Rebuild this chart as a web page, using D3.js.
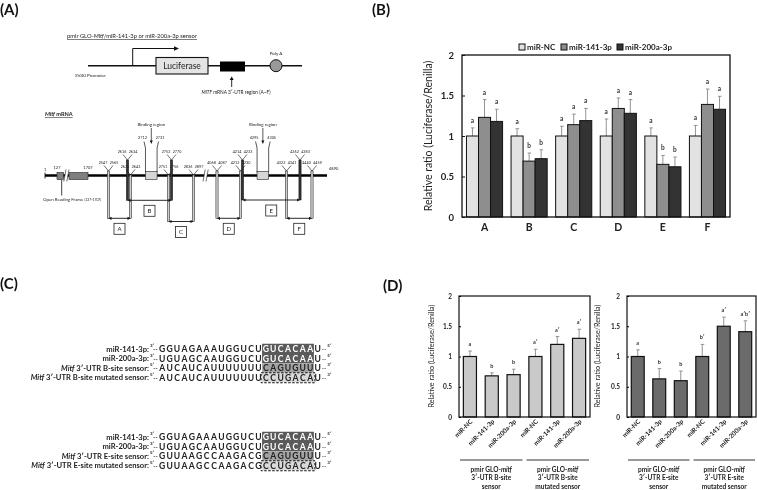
<!DOCTYPE html>
<html><head><meta charset="utf-8">
<script src="https://cdn.jsdelivr.net/npm/d3@7"></script>
<style>body{margin:0;background:#fff} svg{display:block;will-change:transform;-webkit-font-smoothing:antialiased} text{font-family:Lato,"Open Sans",sans-serif}</style>
</head><body>
<svg id="c" width="757" height="490"></svg>
<script>
// ---------------- DATA ----------------
// Panel B
const regions = ["A","B","C","D","E","F"];
const seriesB = ["miR-NC","miR-141-3p","miR-200a-3p"];
const valNC   = [1.00,1.00,1.00,1.00,1.00,1.00];
const val141  = [1.23,0.69,1.14,1.34,0.65,1.39];
const val200a = [1.18,0.72,1.19,1.28,0.62,1.33];
const errNC   = [0.10,0.09,0.12,0.21,0.10,0.13];
const err141  = [0.22,0.10,0.13,0.13,0.11,0.19];
const err200a = [0.15,0.11,0.15,0.17,0.12,0.16];
const sigNC   = ["a","a","a","a","a","a"];
const sig141  = ["a","b","a","a","b","a"];
const sig200a = ["a","b","a","a","b","a"];
const yTicks  = [0,0.5,1,1.5,2];
// Panel D
const dCats   = ["miR-NC","miR-141-3p","miR-200a-3p","miR-NC ","miR-141-3p ","miR-200a-3p "];
const bSiteVal = [1.00,0.68,0.70,1.00,1.20,1.30];
const bSiteErr = [0.09,0.05,0.09,0.12,0.13,0.15];
const bSiteSig = ["a","b","b","a′","a′","a′"];
const eSiteVal = [1.00,0.63,0.60,1.00,1.50,1.41];
const eSiteErr = [0.11,0.17,0.16,0.20,0.15,0.18];
const eSiteSig = ["a","b","b","b′","a′","a′b′"];
const groupsB = [["pmir GLO-|mitf","3′-UTR B-site","sensor"],["pmir GLO-|mitf","3′-UTR B-site","mutated sensor"]];
const groupsE = [["pmir GLO-|mitf","3′-UTR E-site","sensor"],["pmir GLO-|mitf","3′-UTR E-site","mutated sensor"]];
// Panel C
const seqLabelsB = ["miR-141-3p:","miR-200a-3p:","|Mitf| 3′-UTR B-site sensor:","|Mitf| 3′-UTR B-site mutated sensor:"];
const seqLabelsE = ["miR-141-3p:","miR-200a-3p:","|Mitf| 3′-UTR E-site sensor:","|Mitf| 3′-UTR E-site mutated sensor:"];
const seqB = ["GGUAGAAAUGGUCUGUCACAAU","UGUAGCAAUGGUCUGUCACAAU","AUCAUCAUUUUUUUCAGUGUUU","AUCAUCAUUUUUUUCCUGACAU"];
const seqE = ["GGUAGAAAUGGUCUGUCACAAU","UGUAGCAAUGGUCUGUCACAAU","GUUAAGCCAAGACGCAGUGUUU","GUUAAGCCAAGACGCCUGACAU"];
const seqEnds = [["3′","5′"],["3′","5′"],["5′","3′"],["5′","3′"]];
// Panel A (Mitf mRNA map, nucleotide positions)
const mrnaEnds = [1,4890];
const orf = [127,1707];
const primers = [
  {p:[2547,2565], lv:1, to:"A"},
  {p:[2616,2634], lv:0, to:"B"},
  {p:[2625,2643], lv:2, to:"A"},
  {p:[2751,2756], lv:2, to:"C"},
  {p:[2752,2770], lv:0, to:"B"},
  {p:[2836,2897], lv:2, to:"C"},
  {p:[4068,4087], lv:1, to:"D"},
  {p:[4212,4230], lv:1, to:"D"},
  {p:[4214,4233], lv:0, to:"E"},
  {p:[4322,4341], lv:1, to:"F"},
  {p:[4362,4383], lv:0, to:"E"},
  {p:[4440,4459], lv:1, to:"F"}
];
const binding = [[2712,2731],[4295,4305]];

// ---------------- DRAW ----------------
const svg = d3.select("#c");
const SEQF = "'Liberation Sans',Arial,sans-serif";

// panel labels
const panelLabels = [["(A)",0,15],["(B)",372,15],["(C)",0,289],["(D)",383,291]];
svg.selectAll("text.pl").data(panelLabels).join("text").attr("class","pl")
  .attr("x",d=>d[1]).attr("y",d=>d[2]).text(d=>d[0])
  .attr("font-size",15).attr("font-weight","bold").attr("fill","#111");

// ===== Panel B =====
const gB = svg.append("g");
const yB = d3.scaleLinear().domain([0,2]).range([217,55]);
const xB = d3.scaleBand().domain(regions).range([462,730]).paddingInner(0.19).paddingOuter(0.1);
const xBs = d3.scaleBand().domain(seriesB).range([0,xB.bandwidth()]);
const colB = d3.scaleOrdinal().domain(seriesB).range(["#e2e2e2","#8e8e8e","#333333"]);
const rowsB = regions.flatMap((r,i)=>[
  {r,s:seriesB[0],v:valNC[i],e:errNC[i],t:sigNC[i]},
  {r,s:seriesB[1],v:val141[i],e:err141[i],t:sig141[i]},
  {r,s:seriesB[2],v:val200a[i],e:err200a[i],t:sig200a[i]}]);
const cxB = d=>xB(d.r)+xBs(d.s)+xBs.bandwidth()/2;
gB.selectAll("line.eb").data(rowsB).join("line").attr("x1",cxB).attr("x2",cxB)
  .attr("y1",d=>yB(d.v)).attr("y2",d=>yB(d.v+d.e)).attr("stroke","#888").attr("stroke-width",0.9);
gB.selectAll("line.ec").data(rowsB).join("line").attr("x1",d=>cxB(d)-1.5).attr("x2",d=>cxB(d)+2)
  .attr("y1",d=>yB(d.v+d.e)).attr("y2",d=>yB(d.v+d.e)).attr("stroke","#888").attr("stroke-width",0.9);
gB.selectAll("rect.bar").data(rowsB).join("rect")
  .attr("x",d=>xB(d.r)+xBs(d.s)).attr("y",d=>yB(d.v))
  .attr("width",xBs.bandwidth()).attr("height",d=>yB(0)-yB(d.v))
  .attr("fill",d=>colB(d.s)).attr("stroke","#111").attr("stroke-width",1);
gB.selectAll("text.sig").data(rowsB).join("text").attr("x",cxB).attr("y",d=>yB(d.v+d.e)-5)
  .attr("text-anchor","middle").attr("font-size",6.5).attr("font-weight","bold").attr("fill","#333").text(d=>d.t);
gB.append("rect").attr("x",462).attr("y",55).attr("width",268).attr("height",162)
  .attr("fill","none").attr("stroke","#111").attr("stroke-width",1.3);
const axYB = gB.append("g").attr("transform","translate(462,0)")
  .call(d3.axisLeft(yB).tickValues(yTicks).tickFormat(d=>d).tickSizeInner(-3).tickSizeOuter(0).tickPadding(8));
axYB.select(".domain").remove();
axYB.selectAll("text").attr("font-size",9.5).attr("font-weight","bold").attr("fill","#222").attr("font-family","Lato,sans-serif");
axYB.selectAll("line").attr("stroke","#111");
const axXB = gB.append("g").attr("transform","translate(0,217)")
  .call(d3.axisBottom(xB).tickSize(0).tickPadding(7));
axXB.select(".domain").remove();
axXB.selectAll("text").attr("font-size",10.5).attr("font-weight","bold").attr("fill","#222").attr("font-family","Lato,sans-serif");
gB.append("text").attr("transform","translate(432,136) rotate(-90)").attr("text-anchor","middle")
  .attr("font-size",10.5).attr("fill","#222").text("Relative ratio (Luciferase/Renilla)");
const legX = d3.scaleOrdinal().domain(seriesB).range([519,561,617]);
const lg = gB.selectAll("g.lg").data(seriesB).join("g").attr("transform",d=>`translate(${legX(d)},47)`);
lg.append("rect").attr("x",0).attr("y",-3).attr("width",6).attr("height",6).attr("fill",d=>colB(d)).attr("stroke","#111").attr("stroke-width",1);
lg.append("text").attr("x",8).attr("y",0).attr("dy","0.35em").attr("font-size",8).attr("font-weight","bold").attr("fill","#222").text(d=>d);

// ===== Panel D =====
function mixedText(sel, str){
  const parts = str.split("|");
  parts.forEach((p,i)=>{ if(p) sel.append("tspan").attr("font-style", i%2===1?"italic":"normal").text(p); });
}
function drawD(x0,x1,titleX,vals,errs,sigs,fill,groups){
  const g = svg.append("g");
  const y = d3.scaleLinear().domain([0,2]).range([417,296]);
  const x = d3.scaleBand().domain(dCats).range([x0,x1]).paddingInner(0.4).paddingOuter(0.2);
  const rows = dCats.map((c,i)=>({c,v:vals[i],e:errs[i],t:sigs[i]}));
  const cx = d=>x(d.c)+x.bandwidth()/2;
  g.selectAll("line.eb").data(rows).join("line").attr("x1",cx).attr("x2",cx)
    .attr("y1",d=>y(d.v)).attr("y2",d=>y(d.v+d.e)).attr("stroke","#888").attr("stroke-width",0.9);
  g.selectAll("line.ec").data(rows).join("line").attr("x1",d=>cx(d)-1.5).attr("x2",d=>cx(d)+2)
    .attr("y1",d=>y(d.v+d.e)).attr("y2",d=>y(d.v+d.e)).attr("stroke","#888").attr("stroke-width",0.9);
  g.selectAll("rect").data(rows).join("rect").attr("x",d=>x(d.c)).attr("y",d=>y(d.v))
    .attr("width",x.bandwidth()).attr("height",d=>y(0)-y(d.v)).attr("fill",fill).attr("stroke","#111").attr("stroke-width",1.2);
  g.selectAll("text.sig").data(rows).join("text").attr("x",cx).attr("y",d=>y(d.v+d.e)-5)
    .attr("text-anchor","middle").attr("font-size",5.5).attr("font-weight","bold").attr("fill","#333").text(d=>d.t);
  g.append("rect").attr("x",x0).attr("y",296).attr("width",x1-x0).attr("height",121)
    .attr("fill","none").attr("stroke","#111").attr("stroke-width",1.2);
  const ay = g.append("g").attr("transform",`translate(${x0},0)`)
    .call(d3.axisLeft(y).tickValues(yTicks).tickFormat(d=>d).tickSizeInner(-2).tickSizeOuter(0).tickPadding(7));
  ay.select(".domain").remove();
  ay.selectAll("text").attr("font-size",6.5).attr("font-weight","bold").attr("fill","#222").attr("font-family","Lato,sans-serif");
  g.append("text").attr("transform",`translate(${titleX},356) rotate(-90)`).attr("text-anchor","middle")
    .attr("font-size",7.2).attr("fill","#222").text("Relative ratio (Luciferase/Renilla)");
  g.selectAll("text.xl").data(rows).join("text")
    .attr("transform",d=>`translate(${cx(d)+3},422) rotate(-45)`).attr("text-anchor","end")
    .attr("font-size",6.3).attr("font-weight","bold").attr("fill","#222").text(d=>d.c.trim());
  const mid = (x0+x1)/2;
  const spans = [[x0+1,mid-2],[mid+2,x1-1]];
  spans.forEach((s,i)=>{
    g.append("line").attr("x1",s[0]).attr("x2",s[1]).attr("y1",460).attr("y2",460).attr("stroke","#333").attr("stroke-width",1);
    groups[i].forEach((ln,j)=>{
      const t = g.append("text").attr("x",(s[0]+s[1])/2).attr("y",469.5+j*8.5).attr("dy","0.35em")
        .attr("text-anchor","middle").attr("font-size",6.5).attr("font-weight","bold").attr("fill","#222");
      mixedText(t, ln);
    });
  });
}
drawD(459,590,434,bSiteVal,bSiteErr,bSiteSig,"#c9c9c9",groupsB);
drawD(627,756,600,eSiteVal,eSiteErr,eSiteSig,"#6b6b6b",groupsE);

// ===== Panel C =====
const seqX = d3.scaleLinear().domain([0,22]).range([158.5,158.5+22*7.4]);
function drawSeq(rowsY, labels, seqs){
  const g = svg.append("g");
  const rh = rowsY[1]-rowsY[0];
  g.append("rect").attr("x",seqX(14)).attr("y",rowsY[0]-rh/2-0.5).attr("width",seqX(21)-seqX(14)).attr("height",rh*2+0.5).attr("fill","#5a5a5a");
  g.append("rect").attr("x",seqX(14)).attr("y",rowsY[2]-rh/2).attr("width",seqX(21)-seqX(14)).attr("height",rh).attr("fill","#a3a3a3");
  g.append("rect").attr("x",seqX(14)).attr("y",rowsY[3]-rh/2).attr("width",seqX(21)-seqX(14)).attr("height",rh).attr("fill","#d9d9d9");
  g.append("rect").attr("x",seqX(14)-1).attr("y",rowsY[3]-rh/2).attr("width",seqX(21)-seqX(14)+2).attr("height",rh+0.5)
    .attr("fill","none").attr("stroke","#111").attr("stroke-width",1).attr("stroke-dasharray","2.5,1.5");
  rowsY.forEach((yy,r)=>{
    const t = g.append("text").attr("x",149).attr("y",yy).attr("dy","0.35em").attr("text-anchor","end")
      .attr("font-size",7.6).attr("font-weight","bold").attr("fill","#222");
    mixedText(t, labels[r]);
    g.append("text").attr("x",150).attr("y",yy-2).attr("font-size",4.5).attr("font-weight","bold").attr("fill","#222").text(seqEnds[r][0]);
    g.append("text").attr("x",153.3).attr("y",yy).attr("dy","0.35em").attr("font-size",6).attr("font-weight","bold").attr("fill","#222").text("--");
    const letters = seqs[r].split("");
    g.selectAll(null).data(letters).join("text")
      .attr("x",(d,i)=>seqX(i+0.5)).attr("y",yy).attr("dy","0.36em").attr("text-anchor","middle")
      .attr("font-family",SEQF).attr("font-size",8.6).attr("font-weight","bold")
      .attr("fill",(d,i)=> (i>=14 && i<21 && r<2) ? "#fff" : "#222").text(d=>d);
    g.append("text").attr("x",seqX(22)+0.5).attr("y",yy).attr("dy","0.35em").attr("font-size",6).attr("font-weight","bold").attr("fill","#222").text("--");
    g.append("text").attr("x",seqX(22)+6).attr("y",yy-2).attr("font-size",4.5).attr("font-weight","bold").attr("fill","#222").text(seqEnds[r][1]);
  });
}
drawSeq([349,358.5,368,377.5], seqLabelsB, seqB);
drawSeq([437,446.5,456,465.5], seqLabelsE, seqE);

// ===== Panel A: construct =====
const gA = svg.append("g");
{
  const t = gA.append("text").attr("x",67).attr("y",38).attr("font-size",5.8).attr("fill","#222").attr("text-decoration","underline");
  mixedText(t,"pmir GLO-|Mitf|/miR-141-3p or miR-200a-3p sensor");
  gA.append("line").attr("x1",88).attr("x2",302).attr("y1",65.7).attr("y2",65.7).attr("stroke","#111").attr("stroke-width",1.6);
  gA.append("path").attr("d","M132.7,65.7V48.5H175").attr("fill","none").attr("stroke","#111").attr("stroke-width",1);
  gA.append("path").attr("d","M179,48.5L174,46.3L174,50.7Z").attr("fill","#111");
  gA.append("text").attr("x",75).attr("y",77).attr("font-size",4.6).attr("fill","#222").text("SV40 Promoter");
  gA.append("rect").attr("x",156).attr("y",57.5).attr("width",52).attr("height",16.5).attr("fill","#e4e4e4").attr("stroke","#111").attr("stroke-width",1.1);
  gA.append("text").attr("x",182).attr("y",66).attr("dy","0.35em").attr("text-anchor","middle").attr("font-size",8.5).attr("fill","#222").text("Luciferase");
  gA.append("rect").attr("x",220).attr("y",61.5).attr("width",25).attr("height",10).attr("fill","#000");
  gA.append("line").attr("x1",231.7).attr("x2",231.7).attr("y1",87).attr("y2",79).attr("stroke","#111").attr("stroke-width",0.9);
  gA.append("path").attr("d","M231.7,76.5L229.7,80L233.7,80Z").attr("fill","#111");
  const t2 = gA.append("text").attr("x",236).attr("y",94).attr("text-anchor","middle").attr("font-size",4.8).attr("fill","#222");
  mixedText(t2,"|MITF| mRNA 3′-UTR region (A~F)");
  gA.append("circle").attr("cx",276).attr("cy",65.7).attr("r",6).attr("fill","#999").attr("stroke","#111").attr("stroke-width",1);
  gA.append("text").attr("x",276).attr("y",55).attr("text-anchor","middle").attr("font-size",4.5).attr("fill","#222").text("Poly A");
}

// ===== Panel A: Mitf mRNA map =====
const nt = d3.scaleLinear()
  .domain([1,127,1707,2556,2625,2634,2721.5,2753.5,2761,2866.5,4077.5,4221,4223.5,4300,4331.5,4372.5,4449.5,4890])
  .range([45,57,88,108.5,127.5,130.5,149.5,168.5,171.5,193.5,217,240.5,242.5,261.5,286.5,300,312,327]);
const regionArrowY = {A:218.3,B:200.3,C:221.5,D:218.3,E:200,F:218.3};
const darkTo = new Set(["B","E"]);
const levelY = [152.5,163.5,167.5];
const lineY = 175.5;
{
  const t = gA.append("text").attr("x",45).attr("y",116).attr("font-size",5.6).attr("font-weight","bold").attr("fill","#222").attr("text-decoration","underline");
  mixedText(t,"|Mitf| mRNA");
  gA.append("line").attr("x1",nt(mrnaEnds[0])).attr("x2",nt(mrnaEnds[1])).attr("y1",lineY).attr("y2",lineY).attr("stroke","#000").attr("stroke-width",2.6);
  gA.append("line").attr("x1",nt(mrnaEnds[0])).attr("x2",nt(mrnaEnds[0])).attr("y1",lineY-3).attr("y2",lineY+3).attr("stroke","#000").attr("stroke-width",0.8);
  gA.append("text").attr("x",nt(mrnaEnds[0])-1).attr("y",171).attr("font-size",4).attr("fill","#222").text(mrnaEnds[0]);
  gA.append("text").attr("x",nt(mrnaEnds[1])+2).attr("y",170).attr("font-size",4).attr("fill","#222").text(mrnaEnds[1]);
  const brk = (orf[0]+orf[1])/2;
  const b1 = nt(brk)-9, b2 = nt(brk)-3.5;
  gA.append("rect").attr("x",nt(orf[0])).attr("y",172.5).attr("width",b1-nt(orf[0])).attr("height",7).attr("fill","#7f7f7f").attr("stroke","#222").attr("stroke-width",0.6);
  gA.append("rect").attr("x",b2).attr("y",172.5).attr("width",nt(orf[1])-b2).attr("height",7).attr("fill","#7f7f7f").attr("stroke","#222").attr("stroke-width",0.6);
  // break marks
  [b1+0.3, 203].forEach(bx=>{
    gA.append("path").attr("d",`M${bx},181.5L${bx+2.2},169.5L${bx+5.2},169.5L${bx+3},181.5Z`).attr("fill","#fff");
    gA.append("path").attr("d",`M${bx},181.5L${bx+2.2},169.5M${bx+3},181.5L${bx+5.2},169.5`).attr("fill","none").attr("stroke","#111").attr("stroke-width",0.6);
  });
  gA.append("text").attr("x",nt(orf[0])).attr("y",169).attr("text-anchor","middle").attr("font-size",4).attr("fill","#222").text(orf[0]);
  gA.append("text").attr("x",nt(orf[1])).attr("y",169).attr("text-anchor","middle").attr("font-size",4).attr("fill","#222").text(orf[1]);
  gA.append("line").attr("x1",61.7).attr("x2",61.7).attr("y1",180).attr("y2",195.5).attr("stroke","#111").attr("stroke-width",0.8);
  const to = gA.append("text").attr("x",43).attr("y",201).attr("font-size",4.4).attr("fill","#222");
  to.append("tspan").text("Open Reading Frame ");
  to.append("tspan").attr("font-size",3.4).text(`(${orf[0]}-${orf[1]})`);

  binding.forEach(b=>{
    const xa = nt(b[0]) , xb = nt(b[1]);
    const c = (xa+xb)/2, half = 5.8;
    const l = c-half, r = c+half;
    gA.append("path").attr("d",`M${l-1.5},141.5L${l},148V172.5M${r+1.5},141.5L${r},148V172.5`).attr("fill","none").attr("stroke","#111").attr("stroke-width",0.7);
    gA.append("rect").attr("x",l).attr("y",171.5).attr("width",r-l).attr("height",8).attr("fill","#d6d6d6").attr("stroke","#222").attr("stroke-width",0.6);
    gA.append("text").attr("x",l-3).attr("y",138.5).attr("text-anchor","middle").attr("font-size",3.8).attr("fill","#222").text(b[0]);
    gA.append("text").attr("x",r+3).attr("y",138.5).attr("text-anchor","middle").attr("font-size",3.8).attr("fill","#222").text(b[1]);
    gA.append("text").attr("x",c).attr("y",125.5).attr("text-anchor","middle").attr("font-size",4.4).attr("fill","#222").text("Binding region");
    gA.append("line").attr("x1",c).attr("x2",c).attr("y1",128).attr("y2",141).attr("stroke","#111").attr("stroke-width",0.7);
    gA.append("path").attr("d",`M${c},144L${c-1.5},140.5L${c+1.5},140.5Z`).attr("fill","#111");
  });

  primers.forEach(m=>{
    const s = nt((m.p[0]+m.p[1])/2);
    const ly = levelY[m.lv];
    const top = ly + 7.5;
    const bottom = regionArrowY[m.to];
    const dark = darkTo.has(m.to);
    gA.append("path").attr("d",`M${s-4.5},${ly+2}L${s},${top}L${s+4.5},${ly+2}`).attr("fill","none").attr("stroke","#111").attr("stroke-width",0.6);
    gA.append("rect").attr("x",s-1.1).attr("y",top).attr("width",2.2).attr("height",bottom-top)
      .attr("fill",dark?"#333":"#cfcfcf").attr("stroke","#111").attr("stroke-width",0.5);
    gA.append("text").attr("x",s-5.5).attr("y",ly).attr("text-anchor","middle").attr("font-size",3.7).attr("fill","#222").text(m.p[0]);
    gA.append("text").attr("x",s+5.5).attr("y",ly).attr("text-anchor","middle").attr("font-size",3.7).attr("fill","#222").text(m.p[1]);
  });

  regions.forEach(rg=>{
    const ms = primers.filter(m=>m.to===rg).map(m=>nt((m.p[0]+m.p[1])/2));
    const a = d3.min(ms), b = d3.max(ms), yy = regionArrowY[rg];
    gA.append("line").attr("x1",a+2).attr("x2",b-2).attr("y1",yy).attr("y2",yy).attr("stroke","#111").attr("stroke-width",0.9);
    gA.append("path").attr("d",`M${a},${yy}L${a+3},${yy-1.6}L${a+3},${yy+1.6}ZM${b},${yy}L${b-3},${yy-1.6}L${b-3},${yy+1.6}Z`).attr("fill","#111");
    const c = (a+b)/2, by = yy+5;
    gA.append("rect").attr("x",c-5.5).attr("y",by).attr("width",11).attr("height",11).attr("fill","#fff").attr("stroke","#222").attr("stroke-width",0.8);
    gA.append("text").attr("x",c).attr("y",by+5.5).attr("dy","0.35em").attr("text-anchor","middle").attr("font-size",6).attr("fill","#222").text(rg);
  });
}
</script>
</body></html>
